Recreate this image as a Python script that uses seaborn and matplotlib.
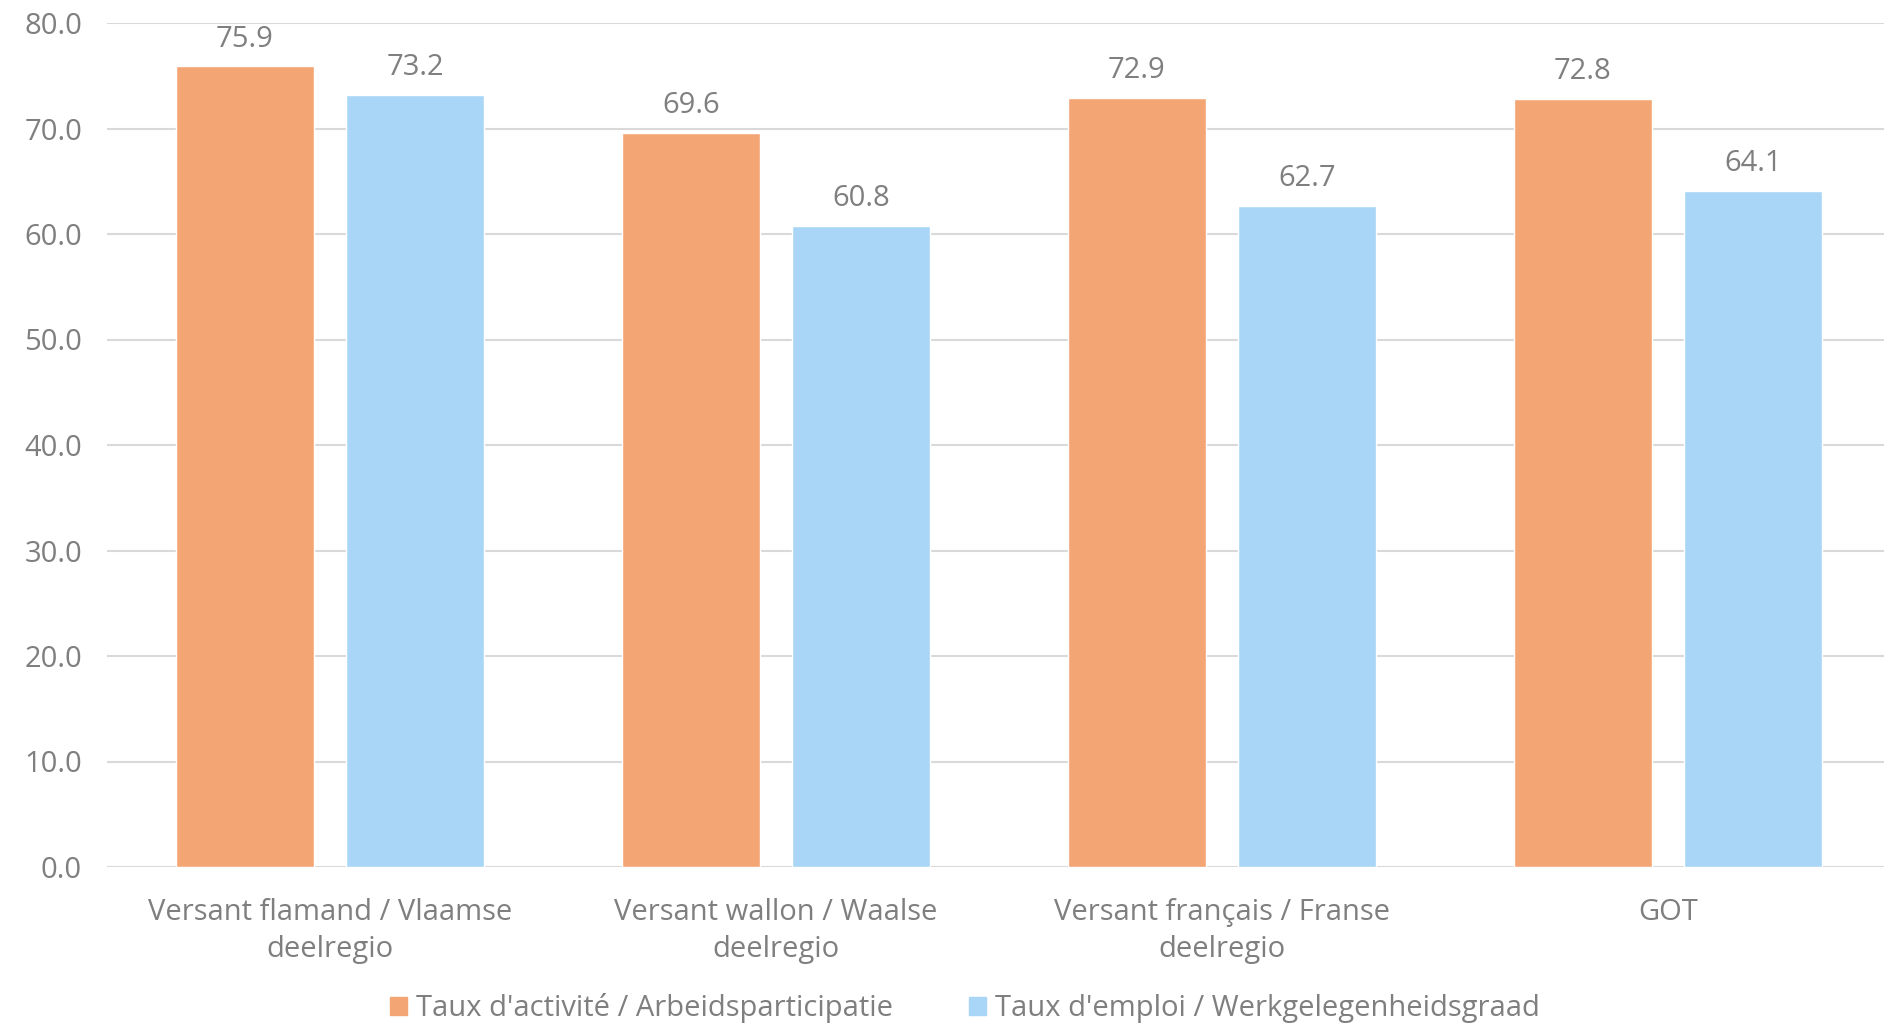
import numpy as np
import pandas as pd
import matplotlib.pyplot as plt
import seaborn as sns

categories = ["Versant flamand / Vlaamse\ndeelregio",
              "Versant wallon / Waalse\ndeelregio",
              "Versant français / Franse\ndeelregio",
              "GOT"]
series = ["Taux d'activité / Arbeidsparticipatie",
          "Taux d'emploi / Werkgelegenheidsgraad"]
activite = [75.9, 69.6, 72.9, 72.8]
emploi = [73.2, 60.8, 62.7, 64.1]
yticks = [0, 10, 20, 30, 40, 50, 60, 70, 80]

colors = ['#F4A574', '#A9D6F7']
grey = '#7F7F7F'
grid_col = '#D9D9D9'
fs = 21

df = pd.DataFrame({
    'cat': categories * 2,
    'serie': [series[0]] * 4 + [series[1]] * 4,
    'val': activite + emploi,
})

sns.set_theme(style='white')
plt.rcParams['font.family'] = ['Open Sans', 'DejaVu Sans']

fig = plt.figure(figsize=(18.84, 10.25), dpi=100)
ax = fig.add_axes([107 / 1884, 1 - 867 / 1025, 1784 / 1884, (867 - 23) / 1025])

sns.barplot(data=df, x='cat', y='val', hue='serie', order=categories,
            hue_order=series, palette=colors, width=0.765, gap=0.19,
            saturation=1, ax=ax, legend=False)

for c in ax.containers:
    ax.bar_label(c, fmt='%.1f', padding=9, color=grey, fontsize=fs)

ax.set_ylim(0, 80)
ax.set_xlim(-0.5, len(categories) - 0.5)
ax.set_yticks(yticks)
ax.set_yticklabels([f'{v:.1f}' for v in yticks])
ax.yaxis.grid(True, color=grid_col, linewidth=1.5)
ax.set_axisbelow(True)
for s in ax.spines.values():
    s.set_visible(False)
ax.set_xlabel('')
ax.set_ylabel('')
ax.tick_params(axis='y', length=0, pad=18, labelsize=fs, labelcolor=grey)
ax.tick_params(axis='x', length=0, pad=22, labelsize=fs, labelcolor=grey)
for t in ax.get_xticklabels():
    t.set_linespacing(1.4)

handles = [plt.Rectangle((0, 0), 1, 1, color=col) for col in colors]
fig.legend(handles, series, loc='lower center', bbox_to_anchor=(0.512, -0.024),
           ncol=2, frameon=False, fontsize=fs, labelcolor=grey,
           handlelength=0.6, handleheight=0.6, handletextpad=0.3,
           columnspacing=2.6)

fig.savefig('out.png', dpi=100)
